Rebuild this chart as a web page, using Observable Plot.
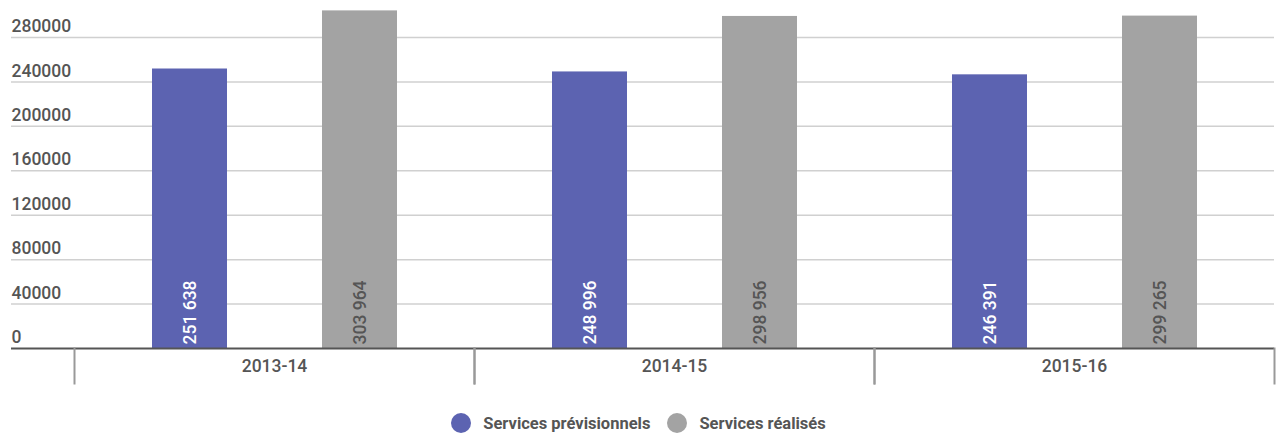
<!DOCTYPE html>
<html>
<head>
<meta charset="utf-8">
<script src="https://cdn.jsdelivr.net/npm/d3@7"></script>
<script src="https://cdn.jsdelivr.net/npm/@observablehq/plot@0.6"></script>
<style>
  body { margin: 0; background: #fff; font-family: Roboto, "Noto Sans", sans-serif; }
  #chart svg { display: block; }
  #legend { display: flex; justify-content: center; align-items: center; margin-top: 18px; height: 20px;
            font-size: 16.5px; font-weight: 700; color: #555; }
  .item { display: flex; align-items: center; margin: 0 8.5px; }
  .dot { width: 20px; height: 20px; border-radius: 50%; margin-right: 12px; }
</style>
</head>
<body>
<div id="chart"></div>
<div id="legend"></div>
<script>
const years = ["2013-14", "2014-15", "2015-16"];
const series = ["Services prévisionnels", "Services réalisés"];
const previsionnels = [251638, 248996, 246391];
const realises = [303964, 298956, 299265];
const yTicks = [0, 40000, 80000, 120000, 160000, 200000, 240000, 280000];
const colors = ["#5c63b1", "#a3a3a3"];
const labelColors = ["#ffffff", "#555555"];

const data = years.flatMap((yr, i) => [
  {year: yr, serie: series[0], value: previsionnels[i]},
  {year: yr, serie: series[1], value: realises[i]}
]);
const grid = years.flatMap(yr => yTicks.map(t => ({year: yr, t})));
const fmt = d3.formatLocale({decimal: ",", thousands: " ", grouping: [3], currency: ["", "€"]}).format(",d");

const W = 1277, H = 395, mT = 37, mB = 12, mL = 73, mR = 2, below = 35;
const frameH = H - mT - mB;
const FS = 17.5;

const firstGrid = grid.filter(d => d.year === years[0]);
const otherGrid = grid.filter(d => d.year !== years[0]);

const chart = Plot.plot({
  width: W, height: H,
  marginTop: mT, marginBottom: mB, marginLeft: mL, marginRight: mR,
  style: {fontFamily: "Roboto", fontSize: FS + "px", color: "#555", background: "#fff"},
  fx: {domain: years, padding: 0, axis: null},
  x: {domain: series, paddingInner: 0.559, paddingOuter: 0.453, axis: null},
  y: {domain: [0, 280000], insetBottom: below, axis: null},
  color: {domain: series, range: colors},
  marks: [
    Plot.ruleY(firstGrid.filter(d => d.t > 0), {fx: "year", y: "t", stroke: "#d0d0d0", strokeWidth: 1.5, insetLeft: -63}),
    Plot.ruleY(otherGrid.filter(d => d.t > 0), {fx: "year", y: "t", stroke: "#d0d0d0", strokeWidth: 1.5}),
    Plot.barY(data, {fx: "year", x: "serie", y: "value", fill: "serie"}),
    Plot.ruleY(firstGrid.filter(d => d.t === 0), {fx: "year", y: "t", stroke: "#555", strokeWidth: 2, insetLeft: -63}),
    Plot.ruleY(otherGrid.filter(d => d.t === 0), {fx: "year", y: "t", stroke: "#555", strokeWidth: 2}),
    Plot.frame({anchor: "left", insetTop: frameH - below, stroke: "#999", strokeWidth: 2}),
    Plot.frame({anchor: "right", insetTop: frameH - below, stroke: "#999", strokeWidth: 2}),
    ...series.map((s, k) => Plot.text(data.filter(d => d.serie === s), {
      fx: "year", x: "serie", y: () => 0, text: d => fmt(d.value),
      rotate: -90, textAnchor: "start", lineAnchor: "middle", dy: -4,
      fill: labelColors[k], fontWeight: 500, fontSize: FS
    })),
    Plot.text(firstGrid, {
      fx: "year", y: "t", text: d => String(d.t),
      frameAnchor: "left", textAnchor: "start", lineAnchor: "middle", dx: -63, dy: -11,
      fill: "#555", fontWeight: 500, fontSize: FS
    }),
    Plot.text(years, {
      fx: d => d, text: d => d, frameAnchor: "bottom", lineAnchor: "middle", dy: -17,
      fill: "#555", fontWeight: 500, fontSize: FS
    })
  ]
});
document.getElementById("chart").appendChild(chart);

const legend = document.getElementById("legend");
series.forEach((s, k) => {
  const item = document.createElement("div");
  item.className = "item";
  const dot = document.createElement("span");
  dot.className = "dot";
  dot.style.background = colors[k];
  const lab = document.createElement("span");
  lab.textContent = s;
  item.appendChild(dot);
  item.appendChild(lab);
  legend.appendChild(item);
});
</script>
</body>
</html>
